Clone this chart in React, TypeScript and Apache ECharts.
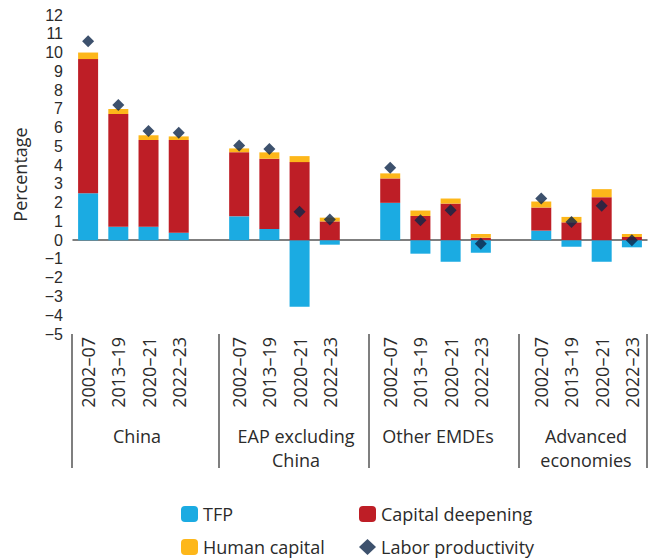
import React, { useEffect, useRef } from "react";
import * as echarts from "echarts";

const periods = ["2002–07", "2013–19", "2020–21", "2022–23"];
const groups = ["China", "EAP excluding\nChina", "Other EMDEs", "Advanced\neconomies"];

// values per group, in period order
const tfp = [
  [2.5, 0.72, 0.72, 0.4],
  [1.27, 0.6, -3.55, -0.24],
  [1.99, -0.72, -1.15, -0.67],
  [0.51, -0.35, -1.15, -0.38],
];
const capital = [
  [7.15, 6.0, 4.62, 4.94],
  [3.42, 3.74, 4.16, 1.0],
  [1.3, 1.29, 1.95, 0.13],
  [1.23, 0.95, 2.29, 0.17],
];
const human = [
  [0.35, 0.27, 0.25, 0.19],
  [0.2, 0.34, 0.32, 0.2],
  [0.27, 0.29, 0.27, 0.2],
  [0.32, 0.29, 0.43, 0.16],
];
const labor = [
  [10.6, 7.2, 5.82, 5.73],
  [5.05, 4.86, 1.51, 1.1],
  [3.86, 1.06, 1.6, -0.19],
  [2.22, 0.97, 1.84, -0.01],
];

const yTicks = { min: -5, max: 12, interval: 1 };

const FONT = "'Open Sans', sans-serif";
const TICK_FONT = "'Liberation Sans', sans-serif";
const TEXT = "#2b2b2b";

function flatten(rows: number[][]): (number | string)[] {
  const out: (number | string)[] = [];
  rows.forEach((r, i) => {
    r.forEach((v) => out.push(v));
    if (i < rows.length - 1) out.push("-");
  });
  return out;
}

function buildCategories(): string[] {
  const out: string[] = [];
  groups.forEach((_, i) => {
    periods.forEach((p) => out.push(p));
    if (i < groups.length - 1) out.push("");
  });
  return out;
}

export default function App() {
  const ref = useRef<HTMLDivElement>(null);
  useEffect(() => {
    if (!ref.current) return;
    const chart = echarts.init(ref.current, null, { renderer: "svg" });
    const categories = buildCategories();
    const sepX = [72, 219, 369, 519, 647];
    const groupX = [137, 296, 438, 586];
    const graphic: any[] = sepX.map((x) => ({
      type: "line",
      shape: { x1: x, y1: 334, x2: x, y2: 468 },
      style: { stroke: "#555", lineWidth: 1.5 },
      silent: true,
    }));
    groups.forEach((g, i) => {
      graphic.push({
        type: "text",
        x: groupX[i],
        y: 424,
        style: {
          text: g,
          font: `18px ${FONT}`,
          fill: TEXT,
          align: "center",
          verticalAlign: "top",
          lineHeight: 24,
        },
        silent: true,
      });
    });
    const legendCommon = {
      orient: "vertical",
      top: 505,
      padding: 0,
      itemGap: 15,
      itemWidth: 17,
      itemHeight: 16,
      textStyle: { fontSize: 18, color: TEXT, fontFamily: FONT },
    };
    chart.setOption({
      animation: false,
      textStyle: { fontFamily: FONT },
      grid: { left: 73, right: 2, top: 15, height: 319 },
      xAxis: [
        {
          type: "category",
          data: categories,
          position: "bottom",
          axisLine: { onZero: true, lineStyle: { color: "#555", width: 1.5 } },
          axisTick: { show: false },
          axisLabel: { show: false },
        },
        {
          type: "category",
          data: categories,
          position: "bottom",
          axisLine: { show: false, onZero: false },
          axisTick: { show: false },
          axisLabel: {
            rotate: 90,
            interval: 0,
            margin: 3,
            fontSize: 18,
            color: TEXT,
            fontFamily: FONT,
          },
        },
      ],
      yAxis: {
        type: "value",
        min: yTicks.min,
        max: yTicks.max,
        interval: yTicks.interval,
        name: "Percentage",
        nameLocation: "middle",
        nameGap: 44,
        nameTextStyle: { fontSize: 18, color: TEXT, fontFamily: FONT },
        axisLine: { show: false },
        axisTick: { show: false },
        splitLine: { show: false },
        axisLabel: {
          fontSize: 16,
          lineHeight: 16,
          color: TEXT,
          margin: 10,
          fontFamily: TICK_FONT,
          formatter: (v: number) => (v < 0 ? "\u2212" + Math.abs(v) : String(v)),
        },
      },
      legend: [
        { ...legendCommon, left: 181, data: ["TFP", "Human capital"] },
        { ...legendCommon, left: 359, data: ["Capital deepening", "Labor productivity"] },
      ],
      series: [
        {
          name: "TFP",
          type: "bar",
          stack: "a",
          barWidth: 20,
          data: flatten(tfp),
          itemStyle: { color: "#1BABE2" },
        },
        {
          name: "Capital deepening",
          type: "bar",
          stack: "a",
          barWidth: 20,
          data: flatten(capital),
          itemStyle: { color: "#BE1E26" },
        },
        {
          name: "Human capital",
          type: "bar",
          stack: "a",
          barWidth: 20,
          data: flatten(human),
          itemStyle: { color: "#FDB71A" },
        },
        {
          name: "Labor productivity",
          type: "scatter",
          symbol: "diamond",
          symbolSize: 12,
          data: flatten(labor),
          itemStyle: { color: "#0C2549" },
          z: 5,
        },
      ],
      graphic,
    });
    return () => chart.dispose();
  }, []);
  return (
    <div
      ref={ref}
      style={{ position: "absolute", left: 0, top: 0, width: 649, height: 558 }}
    />
  );
}
